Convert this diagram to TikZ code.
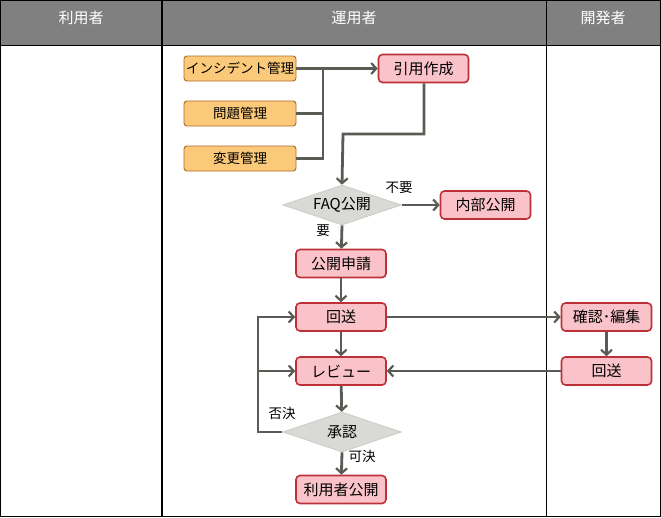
\documentclass[tikz,border=0pt]{standalone}
\usepackage{fontspec}
\setmainfont{Noto Sans CJK JP}
\usetikzlibrary{arrows.meta,shapes.geometric}
\definecolor{hdr}{HTML}{808080}
\definecolor{ofill}{HTML}{FBC97A}
\definecolor{oline}{HTML}{B06A25}
\definecolor{pfill}{HTML}{FAC3C9}
\definecolor{pline}{HTML}{BC3038}
\definecolor{dfill}{HTML}{D9D9D5}
\definecolor{dline}{HTML}{C6C6C2}
\definecolor{conn}{HTML}{5B5B55}
\tikzset{
  obox/.style={draw=oline, fill=ofill, rounded corners=3pt, line width=0.9pt, minimum width=112pt, minimum height=25pt, inner sep=0pt, font=\fontsize{13.5pt}{14pt}\selectfont},
  pbox/.style={draw=pline, fill=pfill, rounded corners=4pt, line width=1.6pt, minimum width=90pt, minimum height=28pt, inner sep=0pt, font=\fontsize{15pt}{16pt}\selectfont},
  dbox/.style={diamond, draw=dline, fill=dfill, line width=0.6pt, aspect=3, inner sep=0pt, minimum width=119pt, minimum height=40pt, font=\fontsize{15pt}{16pt}\selectfont},
  flow/.style={draw=conn, line width=2.8pt, -{Straight Barb[length=5pt,width=11pt,line width=2.2pt]}},
  plain/.style={draw=conn, line width=2.8pt},
  lbl/.style={font=\fontsize{13.5pt}{14pt}\selectfont, inner sep=0pt},
  hd/.style={text=white, font=\fontsize{15pt}{16pt}\selectfont}
}
\begin{document}
\begin{tikzpicture}[x=1pt,y=-1pt]
\useasboundingbox (0,0) rectangle (661,517);
% swimlanes
\fill[hdr] (0,0) rectangle (661,45);
\draw[line width=1pt] (0.5,0.5) rectangle (660.5,516.5);
\draw[line width=1pt] (0,45) -- (661,45);
\draw[line width=1.2pt] (162,0) -- (162,517);
\draw[line width=1pt] (546,0) -- (546,517);
\node[hd] (h1) at (81,18) {利用者};
\node[hd] (h2) at (354,18) {運用者};
\node[hd] (h3) at (603,18) {開発者};
% nodes
\node[obox] (inc) at (240,68.5) {インシデント管理};
\node[obox] (prob) at (240,113.5) {問題管理};
\node[obox] (chg) at (240,158.5) {変更管理};
\node[pbox] (cite) at (423.5,68.5) {引用作成};
\node[dbox] (faq) at (342,205) {FAQ公開};
\node[pbox] (inner) at (485.5,205) {内部公開};
\node[pbox] (apply) at (341,263.5) {公開申請};
\node[pbox] (send1) at (341,317) {回送};
\node[pbox] (review) at (341,371) {レビュー};
\node[dbox] (appr) at (342,432) {承認};
\node[pbox] (pub) at (341,489.5) {利用者公開};
\node[pbox] (edit) at (606.5,317) {確認･編集};
\node[pbox] (send2) at (606.5,371) {回送};
% junction coordinates
\coordinate (j1) at (323,68.5);
\coordinate (c1) at (424,134);
\coordinate (c2) at (343,134);
\coordinate (l1) at (258,432);
\coordinate (l2) at (258,317);
\coordinate (l3) at (258,371);
% connectors
\draw[flow] (inc) -- (cite);
\draw[plain] (prob.east) -- (prob.east -| j1);
\draw[plain] (chg.east) -- (chg.east -| j1) -- (j1);
\draw[flow] (cite.south -| c1) -- (c1) -- (c2) -- (faq.north);
\draw[flow] (faq.east) -- (inner);
\draw[flow] (faq.south) -- (apply);
\draw[flow] (apply) -- (send1);
\draw[flow] (send1) -- (edit);
\draw[flow] (edit) -- (send2);
\draw[flow] (send2) -- (review);
\draw[flow] (send1) -- (review);
\draw[flow] (review) -- (appr);
\draw[flow] (appr.south) -- (pub);
\draw[flow] (appr.west) -- (l1) -- (l2) -- (send1);
\draw[flow] (l3) -- (review);
% labels
\node[lbl] (t1) at (399,188) {不要};
\node[lbl] (t2) at (323,231) {要};
\node[lbl] (t3) at (282,413) {否決};
\node[lbl] (t4) at (362,456) {可決};
\end{tikzpicture}
\end{document}
